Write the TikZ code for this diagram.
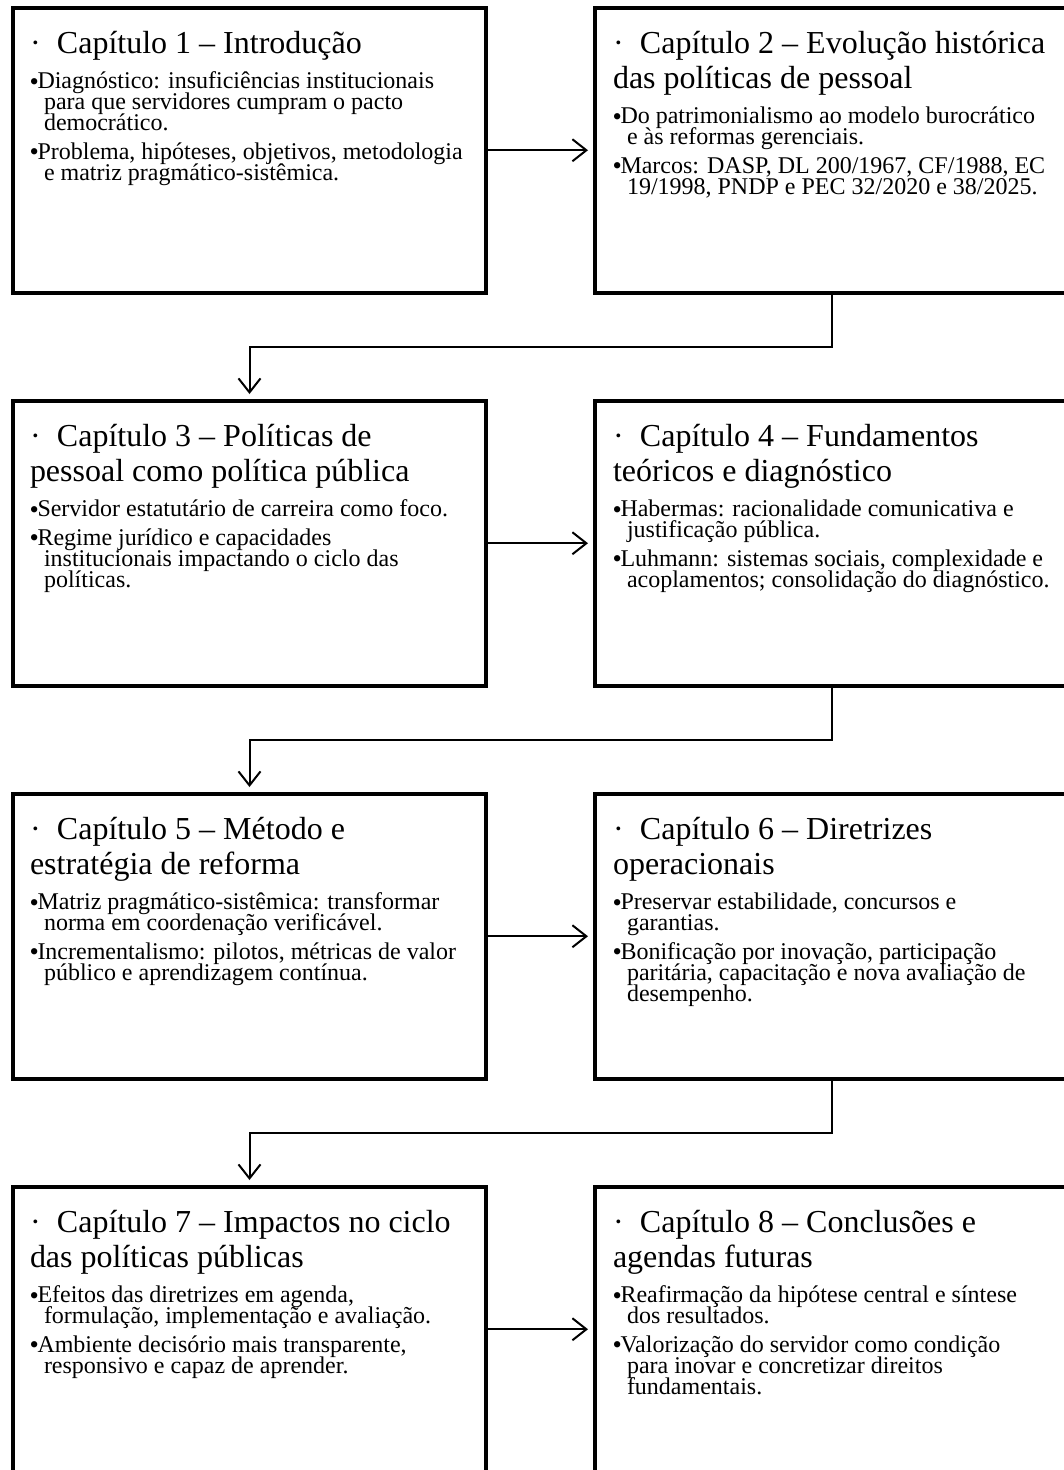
\documentclass[tikz,border=0pt]{standalone}
\usepackage{fontspec}
\setmainfont{Liberation Serif}
\usetikzlibrary{arrows.meta}
\newcommand\Tfont{\fontsize{32}{35}\selectfont}
\newcommand\Bfont{\fontsize{24}{21}\selectfont}
\newcommand\bigbul{\makebox[7.5pt][l]{\hskip-0.5pt\raisebox{-1.8pt}{\fontsize{26.5}{0}\selectfont •}}}
\newcommand\ttlA[1]{\hbox{\smash{\Tfont\makebox[27pt][l]{·}#1}}}
\newcommand\ttlB[1]{\vskip35pt\hbox{\smash{\Tfont #1}}}
\newcommand\bulA[2]{\vskip#1\hbox{\smash{\Bfont\bigbul #2}}}
\newcommand\bulC[1]{\vskip21pt\hbox{\smash{\Bfont\hskip14pt #1}}}
\newcommand\firstgap{35.5pt}
\newcommand\nextgap{28.5pt}
\begin{document}
\begin{tikzpicture}[x=1pt,y=-1pt,
  chbox/.style={draw, line width=4pt, rectangle, minimum width=473pt, minimum height=284.5pt, inner sep=0pt},
  txt/.style={anchor=base west, inner sep=0pt, outer sep=0pt},
  conn/.style={line width=2pt, -{Straight Barb[length=14pt,width=22pt]}, shorten >=5pt}]
\useasboundingbox (0,0) rectangle (1064,1470);
\clip (0,0) rectangle (1064,1470);
% boxes
\node[chbox] (c1) at (249.5,150.25) {};
\node[chbox] (c2) at (831.5,150.25) {};
\node[chbox] (c3) at (249.5,543.25) {};
\node[chbox] (c4) at (831.5,543.25) {};
\node[chbox] (c5) at (249.5,936.25) {};
\node[chbox] (c6) at (831.5,936.25) {};
\node[chbox] (c7) at (249.5,1329.25) {};
\node[chbox] (c8) at (831.5,1329.25) {};
% texts
\node[txt] (t1) at (30,53) {\vtop{\offinterlineskip
  \ttlA{Capítulo 1 – Introdução}
  \bulA{\firstgap}{Diagnóstico: insuficiências institucionais}
  \bulC{para que servidores cumpram o pacto}
  \bulC{democrático.}
  \bulA{\nextgap}{Problema, hipóteses, objetivos, metodologia}
  \bulC{e matriz pragmático-sistêmica.}}};
\node[txt] (t2) at (613,53) {\vtop{\offinterlineskip
  \ttlA{Capítulo 2 – Evolução histórica}
  \ttlB{das políticas de pessoal}
  \bulA{\firstgap}{Do patrimonialismo ao modelo burocrático}
  \bulC{e às reformas gerenciais.}
  \bulA{\nextgap}{Marcos: DASP, DL 200/1967, CF/1988, EC}
  \bulC{19/1998, PNDP e PEC 32/2020 e 38/2025.}}};
\node[txt] (t3) at (30,446) {\vtop{\offinterlineskip
  \ttlA{Capítulo 3 – Políticas de}
  \ttlB{pessoal como política pública}
  \bulA{\firstgap}{Servidor estatutário de carreira como foco.}
  \bulA{\nextgap}{Regime jurídico e capacidades}
  \bulC{institucionais impactando o ciclo das}
  \bulC{políticas.}}};
\node[txt] (t4) at (613,446) {\vtop{\offinterlineskip
  \ttlA{Capítulo 4 – Fundamentos}
  \ttlB{teóricos e diagnóstico}
  \bulA{\firstgap}{Habermas: racionalidade comunicativa e}
  \bulC{justificação pública.}
  \bulA{\nextgap}{Luhmann: sistemas sociais, complexidade e}
  \bulC{acoplamentos; consolidação do diagnóstico.}}};
\node[txt] (t5) at (30,839) {\vtop{\offinterlineskip
  \ttlA{Capítulo 5 – Método e}
  \ttlB{estratégia de reforma}
  \bulA{\firstgap}{Matriz pragmático-sistêmica: transformar}
  \bulC{norma em coordenação verificável.}
  \bulA{\nextgap}{Incrementalismo: pilotos, métricas de valor}
  \bulC{público e aprendizagem contínua.}}};
\node[txt] (t6) at (613,839) {\vtop{\offinterlineskip
  \ttlA{Capítulo 6 – Diretrizes}
  \ttlB{operacionais}
  \bulA{\firstgap}{Preservar estabilidade, concursos e}
  \bulC{garantias.}
  \bulA{\nextgap}{Bonificação por inovação, participação}
  \bulC{paritária, capacitação e nova avaliação de}
  \bulC{desempenho.}}};
\node[txt] (t7) at (30,1232) {\vtop{\offinterlineskip
  \ttlA{Capítulo 7 – Impactos no ciclo}
  \ttlB{das políticas públicas}
  \bulA{\firstgap}{Efeitos das diretrizes em agenda,}
  \bulC{formulação, implementação e avaliação.}
  \bulA{\nextgap}{Ambiente decisório mais transparente,}
  \bulC{responsivo e capaz de aprender.}}};
\node[txt] (t8) at (613,1232) {\vtop{\offinterlineskip
  \ttlA{Capítulo 8 – Conclusões e}
  \ttlB{agendas futuras}
  \bulA{\firstgap}{Reafirmação da hipótese central e síntese}
  \bulC{dos resultados.}
  \bulA{\nextgap}{Valorização do servidor como condição}
  \bulC{para inovar e concretizar direitos}
  \bulC{fundamentais.}}};
% connectors
\draw[conn] (c1.east) -- (c2.west);
\draw[conn] (c3.east) -- (c4.west);
\draw[conn] (c5.east) -- (c6.west);
\draw[conn] (c7.east) -- (c8.west);
\draw[conn] (c2.south) -- ++(0,52.25) -| (c3.north);
\draw[conn] (c4.south) -- ++(0,52.25) -| (c5.north);
\draw[conn] (c6.south) -- ++(0,52.25) -| (c7.north);
\end{tikzpicture}
\end{document}
